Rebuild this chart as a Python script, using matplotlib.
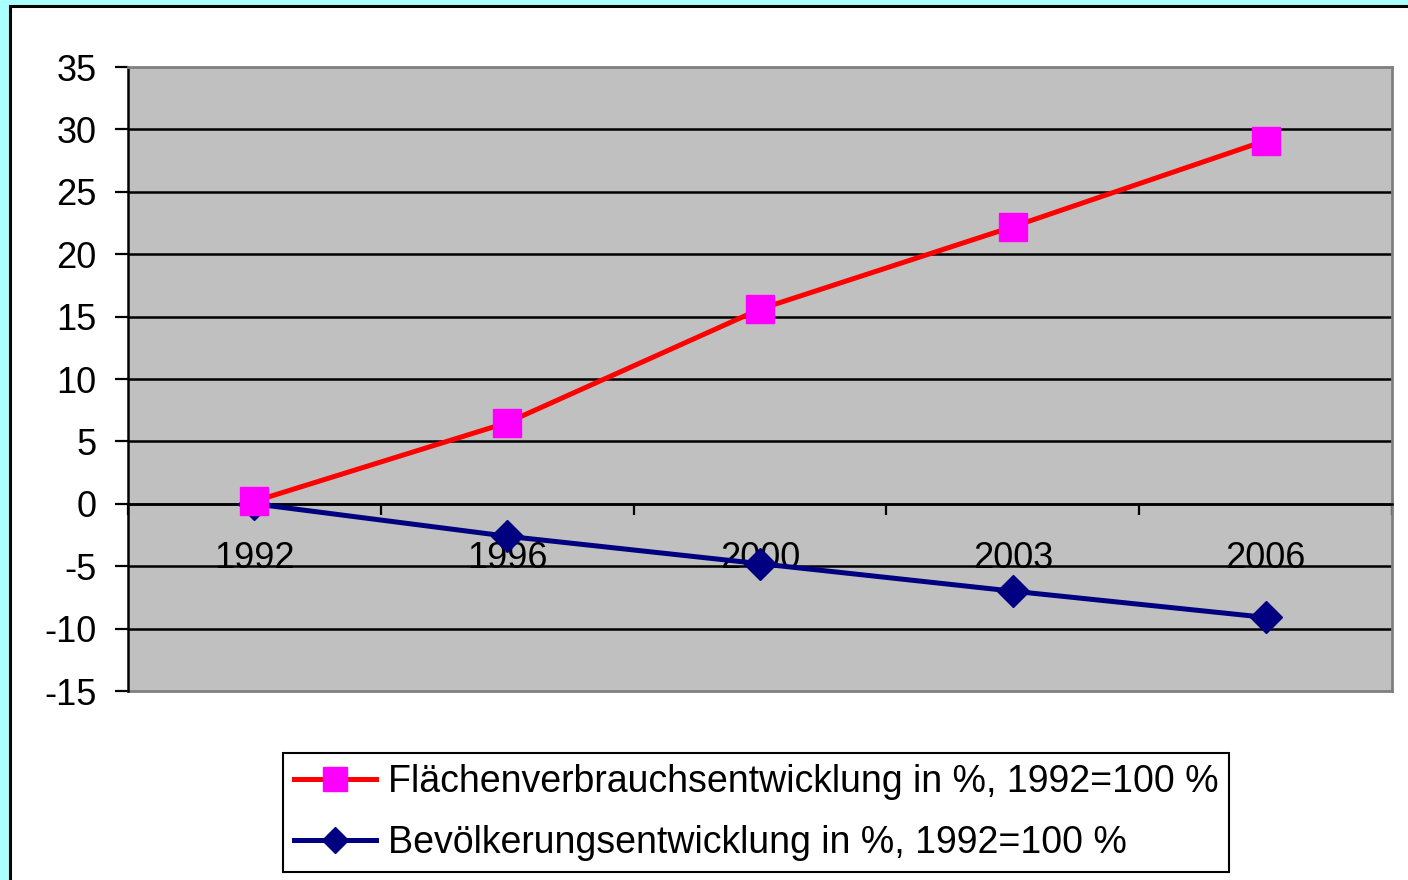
import numpy as np
import matplotlib.pyplot as plt
from matplotlib.patches import Rectangle

plt.rcParams['font.family'] = ['Liberation Sans', 'DejaVu Sans']
plt.rcParams['axes.unicode_minus'] = False

# values (percent change vs. 1992)
years = ['1992', '1996', '2000', '2003', '2006']
flaeche = [0.2, 6.5, 15.6, 22.2, 29.1]
bevoelkerung = [0.0, -2.6, -4.8, -7.0, -9.1]

flaeche_label = 'Flächenverbrauchsentwicklung in %, 1992=100 %'
bevoelk_label = 'Bevölkerungsentwicklung in %, 1992=100 %'

W, H = 1408, 880
fig = plt.figure(figsize=(W / 100, H / 100), dpi=100, facecolor='#AAFFFF')

# white chart area with black frame (cut off at right/bottom)
fig.add_artist(Rectangle((9.5 / W, -0.05), 1.2, 1.05 - 6.5 / H,
                         transform=fig.transFigure, facecolor='white',
                         edgecolor='black', lw=2.2, zorder=-1))

ax = fig.add_axes([128 / W, 1 - 691 / H, (1392 - 128) / W, (691 - 67) / H])
ax.set_facecolor('#C0C0C0')

x = np.arange(len(years))
ax.plot(x, flaeche, color='red', lw=3.6, marker='s', ms=20,
        mfc='#FF00FF', mec='#FF00FF', label=flaeche_label, zorder=4)
ax.plot(x, bevoelkerung, color='#000080', lw=3.6, marker='D', ms=16,
        mfc='#000080', mec='#000080', label=bevoelk_label, zorder=3)

ax.set_xlim(-0.5, len(years) - 0.5)
ax.set_ylim(-15, 35)
ax.set_yticks(np.arange(-15, 36, 5))

# black horizontal gridlines
for yv in range(-10, 35, 5):
    ax.axhline(yv, color='black', lw=1.8, zorder=1)

# frame: black left axis, grey border, category axis on the zero line
ax.spines['left'].set_color('black')
ax.spines['left'].set_linewidth(1.8)
for s in ['top', 'right']:
    ax.spines[s].set_color('#808080')
    ax.spines[s].set_linewidth(2)
ax.spines['bottom'].set_position(('data', 0))
ax.spines['bottom'].set_color('black')
ax.spines['bottom'].set_linewidth(1.8)
ax.axhline(-15, color='#808080', lw=2, clip_on=False, zorder=2.5)

ax.set_xticks(np.arange(-0.5, len(years), 1))
ax.set_xticklabels([])
ax.set_xticks(x, minor=True)
ax.set_xticklabels(years, minor=True)
ax.tick_params(axis='x', which='major', direction='out', length=8, width=1.6, color='black')
ax.tick_params(axis='x', which='minor', length=0, pad=27, labelsize=26)
ax.tick_params(axis='y', direction='out', length=9.5, width=1.6, pad=13, labelsize=26)

leg = fig.legend(loc='center', bbox_to_anchor=(756 / W, 1 - 812.5 / H),
                 fontsize=27, frameon=True, fancybox=False, edgecolor='black',
                 framealpha=1, handlelength=2.2, handletextpad=0.3,
                 borderpad=0.3, labelspacing=0.66, markerscale=0.85)
leg.get_frame().set_linewidth(1.5)

fig.savefig('out.png', dpi=100)
